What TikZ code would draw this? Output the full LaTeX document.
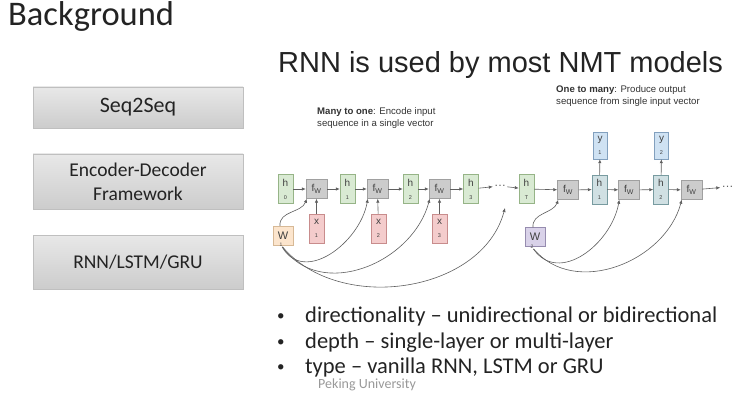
\documentclass[tikz,border=0pt]{standalone}
\usepackage{fontspec}
\setmainfont{Carlito}
\newfontfamily\arialfont{Liberation Sans}
\usepackage{tikz}
\usetikzlibrary{arrows.meta,positioning,calc}
\definecolor{hgreen}{RGB}{217,234,211}
\definecolor{hgreenline}{RGB}{150,180,135}
\definecolor{fgray}{RGB}{204,204,204}
\definecolor{fgrayline}{RGB}{160,160,160}
\definecolor{xred}{RGB}{244,204,204}
\definecolor{xredline}{RGB}{200,140,140}
\definecolor{ybluef}{RGB}{207,226,243}
\definecolor{yblueline}{RGB}{130,160,190}
\definecolor{hcyan}{RGB}{208,224,227}
\definecolor{hcyanline}{RGB}{120,155,160}
\definecolor{wbeige}{RGB}{252,229,205}
\definecolor{wbeigeline}{RGB}{215,185,150}
\definecolor{wpurple}{RGB}{217,210,233}
\definecolor{wpurpleline}{RGB}{150,140,175}
\definecolor{arrowgray}{RGB}{95,95,95}
\definecolor{slidetext}{RGB}{35,35,35}
\newcommand{\cellt}[2]{#1\\[3pt]{\fontsize{5.5}{5.5}\selectfont #2}}

\begin{document}
\begin{tikzpicture}[
x=1pt,y=-1pt,
topic/.style={
draw=black!25,
top color=black!9,
bottom color=black!20,
minimum width=210pt,
inner sep=0pt,
align=center,
font=\fontsize{19.5}{24}\selectfont,
text=slidetext
},
cell/.style={
draw,
minimum width=15pt,
minimum height=29pt,
inner sep=0pt,
align=center,
font=\arialfont\fontsize{10}{10}\selectfont,
text=black!75
},
hcell/.style={cell,fill=hgreen,draw=hgreenline},
dcell/.style={cell,fill=hcyan,draw=hcyanline},
xcell/.style={cell,fill=xred,draw=xredline},
ycell/.style={cell,fill=ybluef,draw=yblueline,minimum width=14pt,minimum height=27pt},
fcell/.style={
draw=fgrayline,
fill=fgray,
minimum width=21pt,
minimum height=19pt,
inner sep=0pt,
font=\arialfont\fontsize{10}{10}\selectfont,
text=black!75
},
wcell/.style={
draw,
minimum width=20pt,
minimum height=19pt,
inner sep=0pt,
font=\arialfont\fontsize{11}{11}\selectfont,
text=black!75
},
caption/.style={
anchor=base west,
align=left,
inner sep=0pt,
font=\arialfont\fontsize{9.6}{12}\selectfont,
text=black!80
},
bul/.style={
anchor=base west,
inner sep=0pt,
font=\fontsize{22.5}{26}\selectfont,
text=slidetext
},
edge/.style={
-{Latex[length=4pt,width=3.4pt]},
line width=0.6pt,
color=arrowgray
}
]

\useasboundingbox (0,0) rectangle (750,409);

\node[anchor=base west,inner sep=0pt,font=\fontsize{34.5}{34}\selectfont,text=slidetext]
(bg) at (8,26) {Background};

\node[topic,minimum height=41pt,font=\fontsize{22}{24}\selectfont] (seq) at (138,107.5) {Seq2Seq};
\node[topic,minimum height=55pt] (encdec) at (138,181.5) {Encoder-Decoder\\Framework};
\node[topic,minimum height=54pt] (rnn) at (138,262) {RNN/LSTM/GRU};

\node[anchor=base west,inner sep=0pt,font=\arialfont\fontsize{29}{29}\selectfont,text=slidetext]
(title) at (278,73) {RNN is used by most NMT models};

% many to one
\node[caption] (cap1) at (317,127)
{\textbf{Many to one}: Encode input\\sequence in a single vector};

\node[hcell] (h0) at (285.5,189) {\cellt{h}{0}};
\node[fcell] (f1) at (316.5,189) {f\textsubscript{W}};
\node[hcell] (h1) at (347.5,189) {\cellt{h}{1}};
\node[fcell] (f2) at (377.5,189) {f\textsubscript{W}};
\node[hcell] (h2) at (410.5,189) {\cellt{h}{2}};
\node[fcell] (f3) at (439.5,189) {f\textsubscript{W}};
\node[hcell] (h3) at (471,189) {\cellt{h}{3}};
\node[inner sep=1pt,font=\arialfont\fontsize{12}{12}\selectfont,text=arrowgray] (dots1) at (500,186) {\dots};
\node[hcell] (hT) at (526.5,189) {\cellt{h}{T}};

\node[xcell] (x1) at (316.5,228.5) {\cellt{x}{1}};
\node[xcell] (x2) at (378.5,228.5) {\cellt{x}{2}};
\node[xcell] (x3) at (439.5,228.5) {\cellt{x}{3}};

\node[wcell,fill=wbeige,draw=wbeigeline] (w1) at (283,235.5) {W};
\node[font=\arialfont\fontsize{5}{5}\selectfont,inner sep=0pt,text=black!70]
(w1i) at (281,245) {1};
\coordinate (wend) at (505,208);

\draw[edge] (h0) -- (f1);
\draw[edge] (f1) -- (h1);
\draw[edge] (h1) -- (f2);
\draw[edge] (f2) -- (h2);
\draw[edge] (h2) -- (f3);
\draw[edge] (f3) -- (h3);
\draw[edge] (h3) -- (dots1);
\draw[edge] (dots1) -- (hT);

\draw[edge] (x1) -- (f1);
\draw[edge] (x2) -- (f2);
\draw[edge] (x3) -- (f3);

\draw[edge] ([xshift=-3pt]w1.north) to[out=95,in=-110] ([xshift=1pt]f1.south west);
\draw[edge] (w1i) to[out=-60,in=-100,looseness=1.15] ([xshift=1pt]f2.south west);
\draw[edge] (w1i) to[out=-55,in=-105,looseness=1.1] ([xshift=1pt]f3.south west);
\draw[edge] (w1i) to[out=-50,in=-105,looseness=1.0] (wend);

% one to many
\node[caption] (cap2) at (556,105)
{\textbf{One to many}: Produce output\\sequence from single input vector};

\node[fcell] (fa) at (568,190) {f\textsubscript{W}};
\node[dcell] (d1) at (599.5,189.5) {\cellt{h}{1}};
\node[fcell] (fb) at (629,190) {f\textsubscript{W}};
\node[dcell] (d2) at (661,189.5) {\cellt{h}{2}};
\node[fcell] (fc) at (691.5,190) {f\textsubscript{W}};
\node[inner sep=1pt,font=\arialfont\fontsize{12}{12}\selectfont,text=arrowgray] (dots2) at (727.5,187) {\dots};

\node[ycell] (y1) at (600,145.5) {\cellt{y}{1}};
\node[ycell] (y2) at (661.5,145.5) {\cellt{y}{2}};

\node[wcell,fill=wpurple,draw=wpurpleline] (w2) at (535,237) {W};
\node[font=\arialfont\fontsize{5}{5}\selectfont,inner sep=0pt,text=black!70]
(w2i) at (532,247) {2};

\draw[edge] (hT) -- (fa);
\draw[edge] (fa) -- (d1);
\draw[edge] (d1) -- (fb);
\draw[edge] (fb) -- (d2);
\draw[edge] (d2) -- (fc);
\draw[edge] (fc) -- (dots2);

\draw[edge] (d1) -- (y1);
\draw[edge] (d2) -- (y2);

\draw[edge] ([xshift=-2pt]w2.north) to[out=95,in=-110] ([xshift=1pt]fa.south west);
\draw[edge] (w2i) to[out=-55,in=-100,looseness=1.15] ([xshift=1pt]fb.south west);
\draw[edge] (w2i) to[out=-50,in=-105,looseness=1.05] ([xshift=1pt]fc.south west);

% bullets
\node[bul,font=\fontsize{15}{15}\selectfont] (b1) at (277,320) {\textbullet};
\node[bul] (t1) at (305,322) {directionality -- unidirectional or bidirectional};
\node[bul,font=\fontsize{15}{15}\selectfont] (b2) at (277,346) {\textbullet};
\node[bul] (t2) at (305,348) {depth -- single-layer or multi-layer};
\node[bul,font=\fontsize{15}{15}\selectfont] (b3) at (277,371) {\textbullet};
\node[bul] (t3) at (305,373) {type -- vanilla RNN, LSTM or GRU};

\node[anchor=base west,inner sep=0pt,font=\fontsize{14}{14}\selectfont,text=black!40]
(pku) at (318,388) {Peking University};

\end{tikzpicture}
\end{document}
